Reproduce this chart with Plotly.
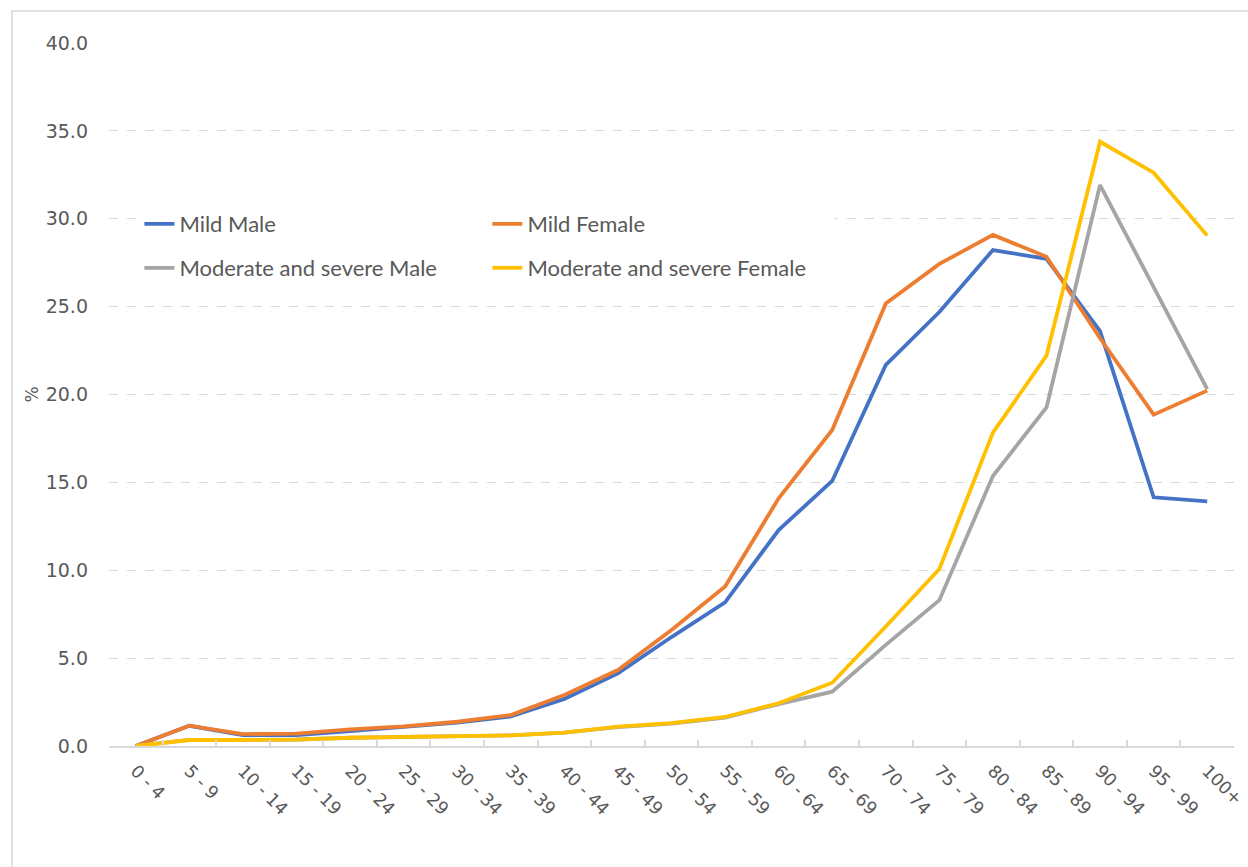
import plotly.graph_objects as go

# Age groups on the x axis
age_groups = ["0 - 4", "5 - 9", "10 - 14", "15 - 19", "20 - 24", "25 - 29", "30 - 34",
              "35 - 39", "40 - 44", "45 - 49", "50 - 54", "55 - 59", "60 - 64", "65 - 69",
              "70 - 74", "75 - 79", "80 - 84", "85 - 89", "90 - 94", "95 - 99", "100+"]

# Prevalence (%) by age group
mild_male = [0.0, 1.15, 0.62, 0.62, 0.85, 1.08, 1.33, 1.68, 2.68, 4.13, 6.2, 8.17,
             12.29, 15.08, 21.68, 24.69, 28.22, 27.72, 23.6, 14.15, 13.92]
mild_female = [0.0, 1.16, 0.68, 0.7, 0.95, 1.12, 1.38, 1.76, 2.9, 4.32, 6.6, 9.07,
               14.09, 17.98, 25.18, 27.43, 29.08, 27.84, 23.2, 18.85, 20.22]
mod_sev_male = [0.0, 0.35, 0.35, 0.37, 0.47, 0.52, 0.54, 0.6, 0.76, 1.08, 1.28, 1.62,
                2.38, 3.09, 5.75, 8.3, 15.36, 19.27, 31.92, 26.07, 20.3]
mod_sev_female = [0.0, 0.34, 0.34, 0.36, 0.47, 0.53, 0.55, 0.6, 0.76, 1.1, 1.3, 1.65,
                  2.43, 3.6, 6.8, 10.07, 17.83, 22.21, 34.38, 32.62, 29.04]

y_ticks = [0, 5, 10, 15, 20, 25, 30, 35, 40]

FONT = "Lato"
TICK_FONT = "DejaVu Sans"
TEXT = "#595959"
GRID = "#d9d9d9"

series = [
    ("Mild Male", mild_male, "#4472C4", "legend"),
    ("Mild Female", mild_female, "#ED7D31", "legend"),
    ("Moderate and severe Male", mod_sev_male, "#A5A5A5", "legend2"),
    ("Moderate and severe Female", mod_sev_female, "#FFC000", "legend2"),
]

fig = go.Figure()
for name, values, color, leg in series:
    fig.add_trace(go.Scatter(
        x=age_groups, y=values, name=name, mode="lines",
        line=dict(color=color, width=3.8),
        legend=leg,
    ))

legend_common = dict(
    orientation="h",
    bgcolor="white",
    font=dict(family=FONT, size=22, color=TEXT),
    entrywidth=303,
    entrywidthmode="pixels",
    itemwidth=30,
    xanchor="left",
    yanchor="middle",
    x=0.027,
    traceorder="normal",
    tracegroupgap=0,
)

fig.update_layout(
    width=1248,
    height=867,
    margin=dict(l=109, r=14, t=43, b=121),
    paper_bgcolor="white",
    plot_bgcolor="white",
    font=dict(family=FONT, color=TEXT),
    legend=dict(legend_common, y=(746 - 224) / 703),
    legend2=dict(legend_common, y=(746 - 268) / 703),
    xaxis=dict(
        type="category",
        automargin=False,
        tickangle=45,
        tickfont=dict(family=TICK_FONT, size=17.5, color=TEXT),
        showgrid=False,
        showline=True,
        linecolor=GRID,
        linewidth=1.5,
        ticks="inside",
        ticklen=6,
        tickcolor=GRID,
        tickwidth=1.5,
        tickson="boundaries",
        ticklabelstandoff=6,
        range=[-0.5, len(age_groups) - 0.5],
    ),
    yaxis=dict(
        automargin=False,
        range=[0, 40],
        tickvals=y_ticks,
        tickformat=".1f",
        tickfont=dict(family=TICK_FONT, size=19, color=TEXT),
        showgrid=True,
        gridcolor=GRID,
        griddash="dash",
        gridwidth=1,
        zeroline=False,
        showline=False,
        ticks="",
        ticklabelstandoff=20,
        title=dict(text="%", font=dict(family=TICK_FONT, size=17, color=TEXT), standoff=2),
    ),
    shapes=[
        # chart area border
        dict(type="rect", xref="paper", yref="paper",
             x0=(12 - 109) / 1125, x1=(1260 - 109) / 1125,
             y0=(746 - 880) / 703, y1=(746 - 11) / 703,
             line=dict(color=GRID, width=1.5), fillcolor="rgba(0,0,0,0)", layer="above"),
    ],
)

fig.write_html("out.html")
